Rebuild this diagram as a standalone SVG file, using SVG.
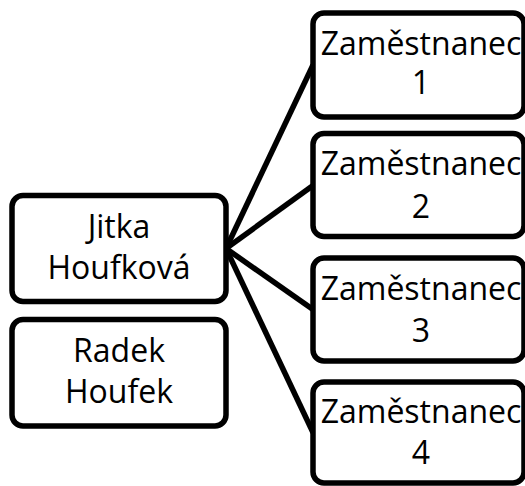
<svg xmlns="http://www.w3.org/2000/svg" width="525" height="486" viewBox="0 0 525 486">
  <style>
    .box { fill: #ffffff; stroke: #000000; stroke-width: 5.5; }
    .link { stroke: #000000; stroke-width: 5.5; fill: none; stroke-linecap: butt; }
    .label { font-family: "Open Sans", "Noto Sans", sans-serif; font-size: 32px; fill: #000000; text-anchor: middle; }
  </style>
  <rect x="0" y="0" width="525" height="486" fill="#ffffff"/>

  <!-- connectors from the manager to each employee -->
  <g id="connectors">
    <line class="link" x1="226" y1="248.5" x2="313" y2="65"/>
    <line class="link" x1="226" y1="248.5" x2="313" y2="185.5"/>
    <line class="link" x1="226" y1="248.5" x2="313" y2="309.5"/>
    <line class="link" x1="226" y1="248.5" x2="313" y2="432.5"/>
  </g>

  <g id="jitka">
    <rect class="box" x="12" y="195.5" width="214" height="106" rx="11"/>
    <text class="label" x="119" y="238">Jitka</text>
    <text class="label" x="119" y="279">Houfková</text>
  </g>

  <g id="radek">
    <rect class="box" x="12" y="319.5" width="214" height="106.5" rx="11"/>
    <text class="label" x="119" y="362">Radek</text>
    <text class="label" x="119" y="403">Houfek</text>
  </g>

  <g id="zamestnanec1">
    <rect class="box" x="313" y="13" width="211" height="104" rx="11"/>
    <text class="label" x="421" y="55">Zaměstnanec</text>
    <text class="label" x="421" y="94">1</text>
  </g>

  <g id="zamestnanec2">
    <rect class="box" x="313" y="133.5" width="211" height="103" rx="11"/>
    <text class="label" x="421" y="175">Zaměstnanec</text>
    <text class="label" x="421" y="218">2</text>
  </g>

  <g id="zamestnanec3">
    <rect class="box" x="313" y="258" width="211" height="103" rx="11"/>
    <text class="label" x="421" y="300">Zaměstnanec</text>
    <text class="label" x="421" y="342">3</text>
  </g>

  <g id="zamestnanec4">
    <rect class="box" x="313" y="382" width="211" height="101" rx="11"/>
    <text class="label" x="421" y="423">Zaměstnanec</text>
    <text class="label" x="421" y="464">4</text>
  </g>
</svg>
